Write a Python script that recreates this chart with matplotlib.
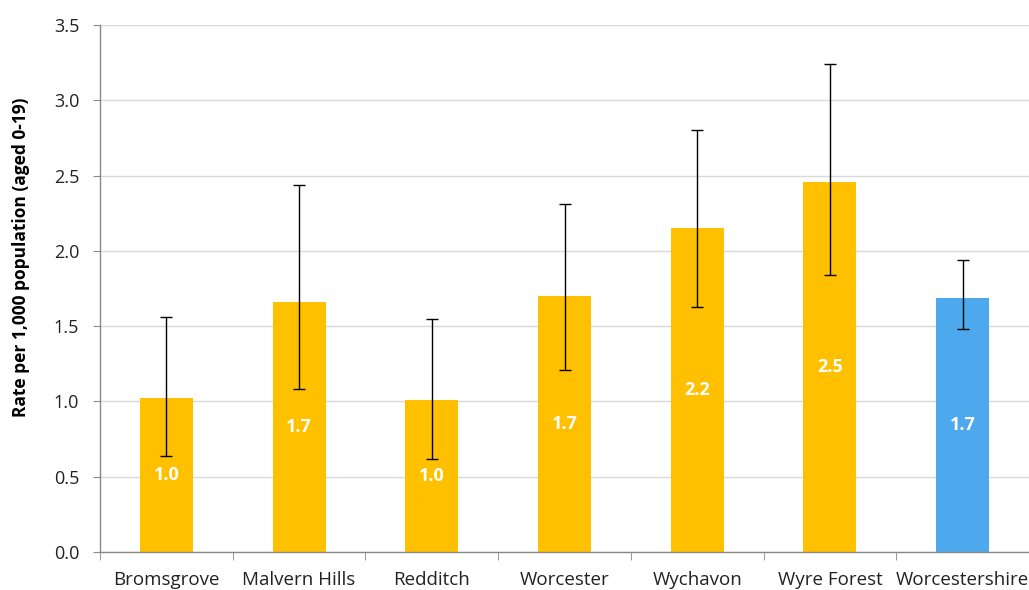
import numpy as np
import matplotlib.pyplot as plt
from matplotlib.ticker import MultipleLocator, FixedLocator

# -------------------- data --------------------
areas = ['Bromsgrove', 'Malvern Hills', 'Redditch', 'Worcester',
         'Wychavon', 'Wyre Forest', 'Worcestershire']
rates = [1.02, 1.66, 1.01, 1.70, 2.15, 2.46, 1.69]
ci_low = [0.64, 1.08, 0.62, 1.21, 1.63, 1.84, 1.48]
ci_high = [1.56, 2.44, 1.55, 2.31, 2.80, 3.24, 1.94]
labels = ['1.0', '1.7', '1.0', '1.7', '2.2', '2.5', '1.7']

plt.rcParams['font.family'] = ['Open Sans', 'DejaVu Sans']

fig = plt.figure(figsize=(10.29, 5.9), dpi=100)
ax = fig.add_axes([100 / 1029, 38 / 590, 929 / 1029, 527 / 590])

x = np.arange(len(areas))
colors = ['#FFC000'] * (len(areas) - 1) + ['#4DA8EE']
rates_a = np.array(rates)
yerr = [rates_a - np.array(ci_low), np.array(ci_high) - rates_a]

ax.bar(x, rates, width=0.4, color=colors, zorder=2)
ax.errorbar(x, rates, yerr=yerr, fmt='none', ecolor='black',
            elinewidth=1.0, capsize=4, capthick=1.0, zorder=3)

# value labels in the middle of each bar
for xi, r, lab in zip(x, rates, labels):
    ax.text(xi, r / 2, lab, ha='center', va='center', color='white',
            fontsize=13, fontweight='bold', zorder=4)

ax.set_xlim(-0.5, len(areas) - 0.5)
ax.set_ylim(0, 3.5)
ax.yaxis.set_major_locator(MultipleLocator(0.5))
ax.yaxis.set_major_formatter(lambda v, p: f'{v:.1f}')
ax.grid(axis='y', color='#D9D9D9', linewidth=1.0, zorder=0)
ax.set_axisbelow(True)

ax.set_xticks(x)
ax.set_xticklabels(areas, fontsize=13.5, color='#222222')
ax.xaxis.set_minor_locator(FixedLocator(np.arange(-0.5, len(areas), 1.0)))
ax.tick_params(axis='x', which='major', length=0, pad=14)
ax.tick_params(axis='x', which='minor', length=6, color='#888888')
ax.tick_params(axis='y', length=5, color='#888888', labelsize=13,
               labelcolor='#222222', pad=10)

for s in ['top', 'right']:
    ax.spines[s].set_visible(False)
for s in ['left', 'bottom']:
    ax.spines[s].set_color('#888888')
    ax.spines[s].set_linewidth(1.0)

ax.set_ylabel('Rate per 1,000 population (aged 0-19)', fontsize=12.5,
              fontweight='bold')
ax.yaxis.set_label_coords(-0.075, 0.56)

fig.savefig('out.png', dpi=100)
